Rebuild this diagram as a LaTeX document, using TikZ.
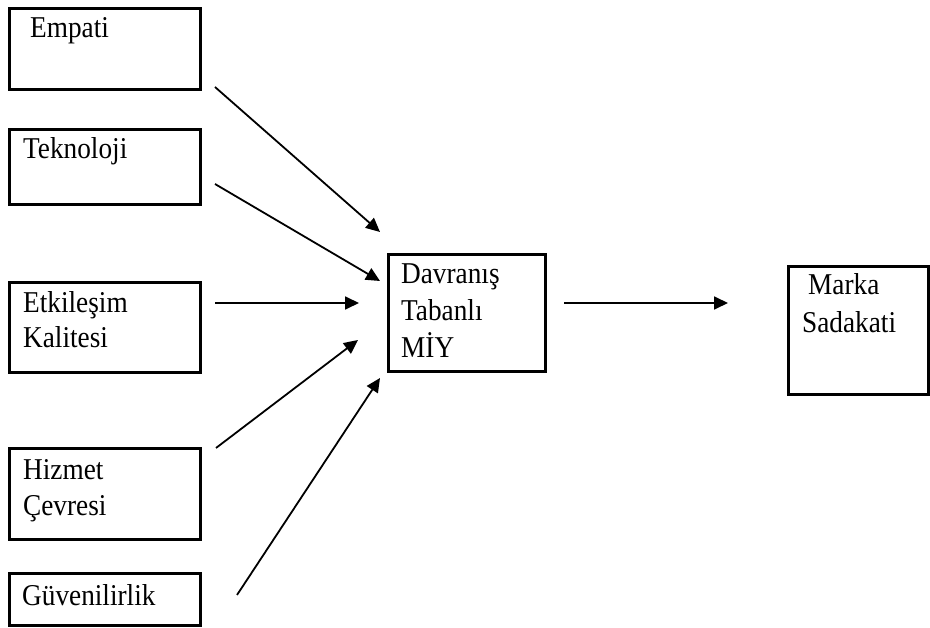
\documentclass[tikz,border=0pt]{standalone}
\usepackage{fontspec}
\usepackage{graphicx}
\setmainfont{Liberation Serif}
\usetikzlibrary{arrows.meta}
\newcommand{\tallt}[1]{\scalebox{1.01}[1.12]{#1}}
\begin{document}
\begin{tikzpicture}[x=1pt,y=-1pt,
  box/.style={draw, line width=2.8pt, inner sep=0pt, anchor=north west},
  midbox/.style={box, line width=3.4pt},
  lbl/.style={anchor=base west, inner sep=0pt, font=\fontsize{27}{36}\selectfont},
  conn/.style={line width=1.8pt, -{Triangle[length=14pt,width=13pt]}}]
\useasboundingbox (0,0) rectangle (930,628);
% boxes
\node[box, minimum width=191pt, minimum height=81pt] (empati) at (8,7) {};
\node[box, minimum width=191pt, minimum height=75pt] (tekno) at (8,128) {};
\node[box, minimum width=191pt, minimum height=90pt] (etki) at (8,281) {};
\node[box, minimum width=191pt, minimum height=91pt] (hizmet) at (8,447) {};
\node[box, minimum width=191pt, minimum height=52pt] (guven) at (8,572) {};
\node[midbox, minimum width=157pt, minimum height=117pt] (miy) at (387,253) {};
\node[box, minimum width=140pt, minimum height=128pt] (marka) at (787,265) {};
% labels
\node[lbl] (tEmpati) at (30,38) {\tallt{Empati}};
\node[lbl] (tTekno) at (23,159) {\tallt{Teknoloji}};
\node[lbl] (tEtki1) at (23,313) {\tallt{Etkileşim}};
\node[lbl] (tEtki2) at (23,348) {\tallt{Kalitesi}};
\node[lbl] (tHiz1) at (23,480) {\tallt{Hizmet}};
\node[lbl] (tHiz2) at (23,515) {\tallt{Çevresi}};
\node[lbl] (tGuv) at (22,605) {\tallt{Güvenilirlik}};
\node[lbl] (tMiy1) at (401,284) {\tallt{Davranış}};
\node[lbl] (tMiy2) at (401,321) {\tallt{Tabanlı}};
\node[lbl] (tMiy3) at (401,358) {\tallt{MİY}};
\node[lbl] (tMar1) at (808,295) {\tallt{Marka}};
\node[lbl] (tMar2) at (802,333) {\tallt{Sadakati}};
% connector ends
\coordinate (s1) at (215,87);  \coordinate (e1) at (380,232);
\coordinate (s2) at (215,184); \coordinate (e2) at (380,281);
\coordinate (s3) at (215,303); \coordinate (e3) at (359,303);
\coordinate (s4) at (216,448); \coordinate (e4) at (358,340);
\coordinate (s5) at (237,595); \coordinate (e5) at (380,378);
\coordinate (s6) at (564,303); \coordinate (e6) at (728,303);
\draw[conn] (s1) -- (e1);
\draw[conn] (s2) -- (e2);
\draw[conn] (s3) -- (e3);
\draw[conn] (s4) -- (e4);
\draw[conn] (s5) -- (e5);
\draw[conn] (s6) -- (e6);
\end{tikzpicture}
\end{document}
